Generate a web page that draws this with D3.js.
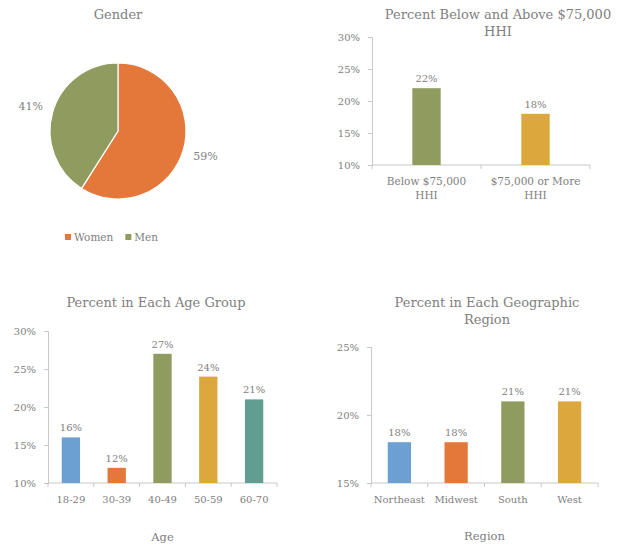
<!DOCTYPE html>
<html>
<head>
<meta charset="utf-8">
<script src="https://cdn.jsdelivr.net/npm/d3@7"></script>
<style>
  body { margin: 0; background: #fff; }
  text { font-family: "DejaVu Serif", serif; fill: #808080; }
</style>
</head>
<body>
<div id="chart"></div>
<script>
// data
const genderLabels = ["Women", "Men"];
const genderValues = [59, 41];

const incomeLabels = [["Below $75,000", "HHI"], ["$75,000 or More", "HHI"]];
const incomeValues = [22, 18];
const incomeTicks = [10, 15, 20, 25, 30];

const ageLabels = ["18-29", "30-39", "40-49", "50-59", "60-70"];
const ageValues = [16, 12, 27, 24, 21];
const ageTicks = [10, 15, 20, 25, 30];

const regionLabels = ["Northeast", "Midwest", "South", "West"];
const regionValues = [18, 18, 21, 21];
const regionTicks = [15, 20, 25];

const blue = "#6c9fd2", orange = "#e3783a", green = "#909c5f", gold = "#dca83e", teal = "#5f9e90";
const axisColor = "#c8c8c8";

const svg = d3.select("#chart").append("svg")
    .attr("width", 619)
    .attr("height", 549);

// ---------- pie ----------
const pieG = svg.append("g").attr("transform", "translate(118,131)");
const r = 68;
const pie = d3.pie().sort(null).value(d => d);
const arc = d3.arc().innerRadius(0).outerRadius(r);
const pieColors = [orange, green];

svg.append("text").attr("x", 118).attr("y", 19)
    .attr("text-anchor", "middle").attr("font-size", 13).text("Gender");

pieG.selectAll("path")
    .data(pie(genderValues))
    .join("path")
    .attr("d", arc)
    .attr("fill", (d, i) => pieColors[i])
    .attr("stroke", "#fff")
    .attr("stroke-width", 1.2);

pieG.selectAll("text.lbl")
    .data(pie(genderValues))
    .join("text")
    .attr("class", "lbl")
    .attr("font-size", 11)
    .attr("text-anchor", "middle")
    .attr("x", d => Math.sin((d.startAngle + d.endAngle) / 2) * 91)
    .attr("y", d => -Math.cos((d.startAngle + d.endAngle) / 2) * 91 + 4)
    .text(d => d.value + "%");

// legend
const legend = svg.append("g").attr("transform", "translate(65,241)");
let lx = 0;
genderLabels.forEach((d, i) => {
    legend.append("rect").attr("x", lx).attr("y", -7).attr("width", 6).attr("height", 6)
        .attr("fill", pieColors[i]);
    const t = legend.append("text").attr("x", lx + 9).attr("y", 0)
        .attr("font-size", 10.5).text(d);
    lx += 9 + t.node().getComputedTextLength() + 12;
});

// ---------- bar chart helper ----------
function barChart(opts) {
    const g = svg.append("g");
    const x = d3.scaleBand()
        .domain(d3.range(opts.values.length))
        .range([opts.x0, opts.x1])
        .paddingInner(opts.pad)
        .paddingOuter(opts.pad / 2);
    const y = d3.scaleLinear()
        .domain([opts.ticks[0], opts.ticks[opts.ticks.length - 1]])
        .range([opts.y0, opts.y1]);

    // titles
    opts.title.forEach((t, i) => {
        g.append("text").attr("x", opts.titleX).attr("y", opts.titleY + i * 17)
            .attr("text-anchor", "middle").attr("font-size", 13).text(t);
    });

    // y axis
    const yAxis = g.append("g")
        .attr("transform", `translate(${opts.x0},0)`)
        .call(d3.axisLeft(y).tickValues(opts.ticks).tickSize(4).tickPadding(8)
            .tickFormat(d => d + "%"));
    yAxis.select(".domain").attr("stroke", axisColor);
    yAxis.selectAll(".tick line").attr("stroke", axisColor);
    yAxis.selectAll(".tick text").attr("font-size", 10).attr("font-family", "DejaVu Serif").attr("fill", "#808080");

    // x axis line with ticks between categories
    g.append("line")
        .attr("x1", opts.x0).attr("x2", opts.x1)
        .attr("y1", opts.y0).attr("y2", opts.y0)
        .attr("stroke", axisColor);
    const step = (opts.x1 - opts.x0) / opts.values.length;
    d3.range(opts.values.length + 1).forEach(i => {
        const xx = opts.x0 + i * step;
        g.append("line").attr("x1", xx).attr("x2", xx)
            .attr("y1", opts.y0).attr("y2", opts.y0 + 4).attr("stroke", axisColor);
    });

    // bars
    g.selectAll("rect")
        .data(opts.values)
        .join("rect")
        .attr("x", (d, i) => x(i))
        .attr("y", d => y(d))
        .attr("width", x.bandwidth())
        .attr("height", d => opts.y0 - y(d))
        .attr("fill", (d, i) => opts.colors[i]);

    // value labels
    g.selectAll("text.val")
        .data(opts.values)
        .join("text")
        .attr("class", "val")
        .attr("x", (d, i) => x(i) + x.bandwidth() / 2)
        .attr("y", d => y(d) - 6)
        .attr("text-anchor", "middle")
        .attr("font-size", 10)
        .text(d => d + "%");

    // category labels
    opts.labels.forEach((lab, i) => {
        const lines = Array.isArray(lab) ? lab : [lab];
        lines.forEach((l, j) => {
            g.append("text")
                .attr("x", x(i) + x.bandwidth() / 2)
                .attr("y", opts.y0 + 20 + j * 14)
                .attr("text-anchor", "middle")
                .attr("font-size", opts.labelSize)
                .text(l);
        });
    });

    if (opts.axisTitle) {
        g.append("text").attr("x", (opts.x0 + opts.x1) / 2).attr("y", opts.axisTitleY)
            .attr("text-anchor", "middle").attr("font-size", 11.5).text(opts.axisTitle);
    }
}

barChart({
    title: ["Percent Below and Above $75,000", "HHI"], titleX: 498, titleY: 19,
    values: incomeValues, labels: incomeLabels, ticks: incomeTicks,
    colors: [green, gold], labelSize: 10.5,
    x0: 372, x1: 590, y0: 165, y1: 37, pad: 0.74
});

barChart({
    title: ["Percent in Each Age Group"], titleX: 156, titleY: 307,
    values: ageValues, labels: ageLabels, ticks: ageTicks,
    colors: [blue, orange, green, gold, teal], labelSize: 10,
    x0: 48, x1: 277, y0: 483, y1: 331, pad: 0.6,
    axisTitle: "Age", axisTitleY: 541
});

barChart({
    title: ["Percent in Each Geographic", "Region"], titleX: 487, titleY: 307,
    values: regionValues, labels: regionLabels, ticks: regionTicks,
    colors: [blue, orange, green, gold], labelSize: 10,
    x0: 371, x1: 598, y0: 483, y1: 347, pad: 0.59,
    axisTitle: "Region", axisTitleY: 540
});
</script>
</body>
</html>
